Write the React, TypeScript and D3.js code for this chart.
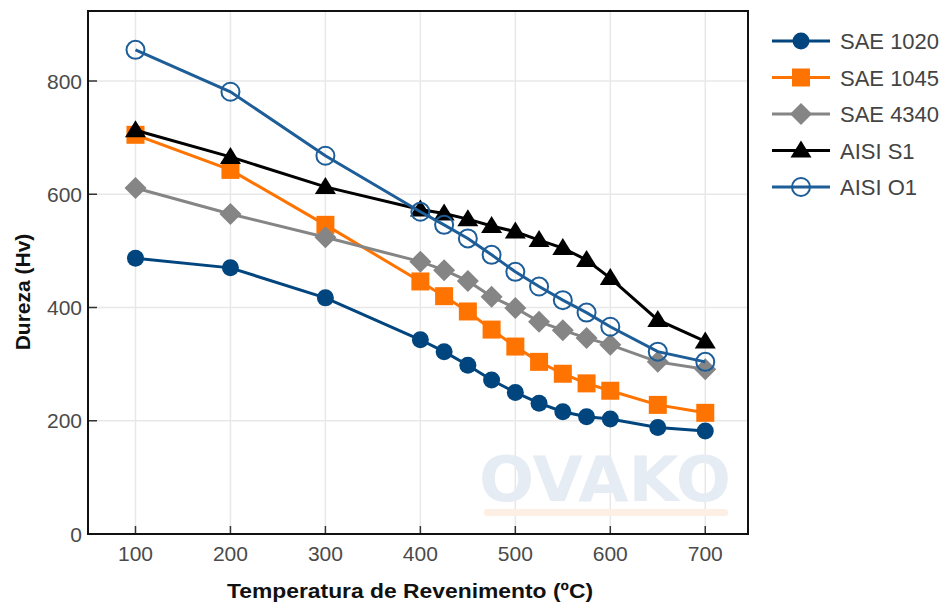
import React from "react";
import * as d3 from "d3";

const temps = [100, 200, 300, 400, 425, 450, 475, 500, 525, 550, 575, 600, 650, 700];
const sae1020 = [487, 470, 417, 343, 322, 298, 272, 250, 231, 216, 207, 203, 188, 182];
const sae1045 = [705, 643, 546, 446, 420, 393, 361, 331, 304, 283, 266, 253, 228, 214];
const sae4340 = [611, 565, 524, 481, 466, 447, 419, 399, 375, 360, 346, 334, 304, 291];
const aisiS1 = [713, 666, 613, 573, 566, 556, 544, 534, 519, 505, 484, 452, 378, 340];
const aisiO1 = [855, 781, 668, 569, 546, 522, 493, 463, 437, 413, 391, 366, 322, 304];
const seriesNames = ["SAE 1020", "SAE 1045", "SAE 4340", "AISI S1", "AISI O1"];
const xTicks = [100, 200, 300, 400, 500, 600, 700];
const yTicks = [0, 200, 400, 600, 800];

type Marker = "circle" | "square" | "diamond" | "triangle" | "open";
const seriesData = [sae1020, sae1045, sae4340, aisiS1, aisiO1];
const colors = ["#00457e", "#ff7300", "#858585", "#000000", "#1d5d98"];
const markers: Marker[] = ["circle", "square", "diamond", "triangle", "open"];

const L = 88, R = 748, T = 11, B = 534;
const x = d3.scaleLinear().domain([50, 745]).range([L, R]);
const y = d3.scaleLinear().domain([0, (B - T) / 0.56625]).range([B, T]);

function MarkerShape({ type, cx, cy, color }: { type: Marker; cx: number; cy: number; color: string }) {
  if (type === "circle") return <circle cx={cx} cy={cy} r={8.5} fill={color} />;
  if (type === "open") return <circle cx={cx} cy={cy} r={9} fill="none" stroke={color} strokeWidth={2} />;
  if (type === "square") return <rect x={cx - 9} y={cy - 9} width={18} height={18} fill={color} />;
  if (type === "diamond")
    return <path d={`M${cx},${cy - 11}L${cx + 11},${cy}L${cx},${cy + 11}L${cx - 11},${cy}Z`} fill={color} />;
  return <path d={`M${cx},${cy - 10}L${cx + 10.5},${cy + 7}L${cx - 10.5},${cy + 7}Z`} fill={color} />;
}

export default function App() {
  const line = d3
    .line<number>()
    .x((_, i) => x(temps[i]))
    .y((d) => y(d));
  const font = "Liberation Sans, Arial, sans-serif";
  return (
    <svg
      width={947}
      height={606}
      style={{ position: "absolute", left: 0, top: 0, background: "#fff" }}
      fontFamily={font}
    >
      <rect x={0} y={0} width={947} height={606} fill="#fff" />
      {/* gridlines */}
      {xTicks.map((t) => (
        <line key={"gx" + t} x1={x(t)} x2={x(t)} y1={T} y2={B} stroke="#e8e8e8" strokeWidth={1.5} />
      ))}
      {yTicks.map((t) => (
        <line key={"gy" + t} x1={L} x2={R} y1={y(t)} y2={y(t)} stroke="#e8e8e8" strokeWidth={1.5} />
      ))}
      {/* watermark */}
      <text
        x={605}
        y={501}
        textAnchor="middle"
        fontSize={62}
        fontWeight="bold"
        fontFamily="DejaVu Sans, sans-serif"
        fill="#e6ecf3"
        textLength={252}
        lengthAdjust="spacingAndGlyphs"
      >
        OVAKO
      </text>
      <rect x={484} y={509} width={244} height={7} rx={3} fill="#fdefe4" />
      {/* ticks */}
      {xTicks.map((t) => (
        <line key={"tx" + t} x1={x(t)} x2={x(t)} y1={B} y2={B - 8} stroke="#333" strokeWidth={1.5} />
      ))}
      {yTicks.map((t) => (
        <line key={"ty" + t} x1={L} x2={L + 9} y1={y(t)} y2={y(t)} stroke="#333" strokeWidth={1.5} />
      ))}
      {/* series */}
      {seriesData.map((s, si) => (
        <g key={"s" + si}>
          <path d={line(s) || ""} fill="none" stroke={colors[si]} strokeWidth={3} />
          {s.map((v, i) => (
            <MarkerShape key={i} type={markers[si]} cx={x(temps[i])} cy={y(v)} color={colors[si]} />
          ))}
        </g>
      ))}
      {/* frame */}
      <rect x={L} y={T} width={R - L} height={B - T} fill="none" stroke="#111" strokeWidth={2} />
      {/* tick labels */}
      {xTicks.map((t) => (
        <text key={"lx" + t} x={x(t)} y={561} textAnchor="middle" fontSize={21} fill="#4a4a4a">
          {t}
        </text>
      ))}
      {yTicks.map((t) => (
        <text key={"ly" + t} x={82} y={y(t) + 7.5} textAnchor="end" fontSize={21} fill="#4a4a4a">
          {t}
        </text>
      ))}
      {/* axis titles */}
      <text
        x={410}
        y={598}
        textAnchor="middle"
        fontSize={21}
        fontWeight="bold"
        fill="#111"
        textLength={366}
        lengthAdjust="spacingAndGlyphs"
      >
        Temperatura de Revenimento (ºC)
      </text>
      <text
        transform="translate(30,292) rotate(-90)"
        textAnchor="middle"
        fontSize={21}
        fontWeight="bold"
        fill="#111"
      >
        Dureza (Hv)
      </text>
      {/* legend */}
      {seriesNames.map((n, i) => {
        const ly = 41 + i * 36.5;
        return (
          <g key={"lg" + i}>
            <line x1={772} x2={830} y1={ly} y2={ly} stroke={colors[i]} strokeWidth={3} />
            <MarkerShape type={markers[i]} cx={801} cy={ly} color={colors[i]} />
            <text x={840} y={ly + 8} fontSize={22} fill="#444">
              {n}
            </text>
          </g>
        );
      })}
    </svg>
  );
}
